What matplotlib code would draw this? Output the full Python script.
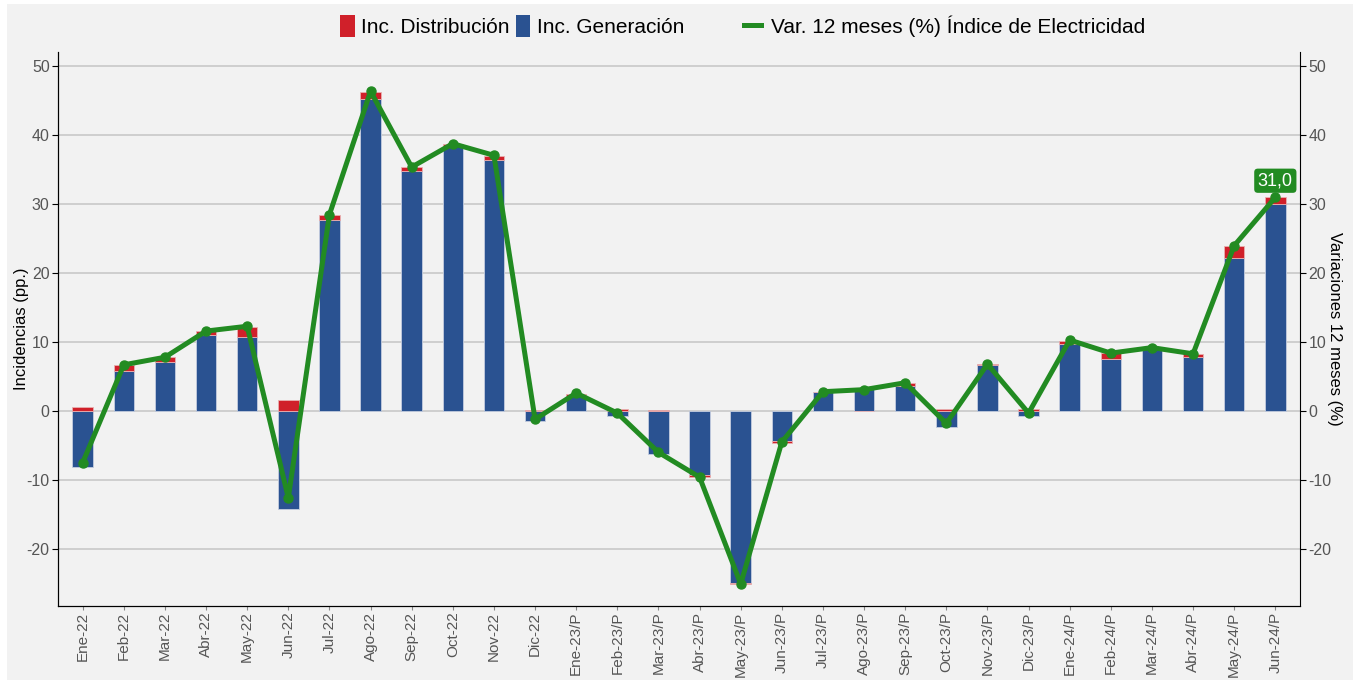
import matplotlib.pyplot as plt
import numpy as np
from matplotlib.patches import Patch, Rectangle
from matplotlib.lines import Line2D

plt.rcParams['font.family'] = ['Liberation Sans', 'DejaVu Sans']
plt.rcParams['axes.unicode_minus'] = False

months = ["Ene-22", "Feb-22", "Mar-22", "Abr-22", "May-22", "Jun-22", "Jul-22", "Ago-22",
          "Sep-22", "Oct-22", "Nov-22", "Dic-22", "Ene-23/P", "Feb-23/P", "Mar-23/P",
          "Abr-23/P", "May-23/P", "Jun-23/P", "Jul-23/P", "Ago-23/P", "Sep-23/P", "Oct-23/P",
          "Nov-23/P", "Dic-23/P", "Ene-24/P", "Feb-24/P", "Mar-24/P", "Abr-24/P", "May-24/P",
          "Jun-24/P"]

# incidencias (pp.)
generacion = [-8.1, 5.8, 7.1, 11.0, 10.7, -14.2, 27.7, 45.3, 34.9, 38.4, 36.4, -1.4,
              2.2, -0.7, -6.2, -9.3, -24.9, -4.4, 2.7, 3.2, 3.6, -2.3, 6.7, -0.7,
              9.7, 7.6, 9.2, 7.9, 22.2, 30.0]
distribucion = [0.6, 0.9, 0.7, 0.6, 1.5, 1.6, 0.7, 1.0, 0.5, 0.3, 0.6, 0.1,
                0.2, 0.3, 0.2, -0.3, -0.2, -0.2, 0.1, 0.0, 0.4, 0.3, 0.1, 0.3,
                0.5, 0.8, 0.1, 0.4, 1.8, 1.0]
# var. 12 meses (%)
var_12m = [-7.5, 6.7, 7.8, 11.6, 12.3, -12.6, 28.5, 46.4, 35.4, 38.8, 37.1, -1.2,
           2.6, -0.3, -6.0, -9.6, -25.1, -4.5, 2.8, 3.1, 4.1, -1.8, 6.8, -0.3,
           10.3, 8.4, 9.2, 8.3, 24.0, 31.0]

blue = "#2a5291"
red = "#d0202a"
green = "#228b22"
bg = "#f2f2f2"
txt = "#555555"

fig = plt.figure(figsize=(13.53, 6.8), dpi=100)
fig.patch.set_facecolor("white")
fig.patches.append(Rectangle((7 / 1353, 0), 1 - 7 / 1353, 1 - 4 / 680,
                             transform=fig.transFigure, facecolor=bg, edgecolor="none", zorder=-10))

ax = fig.add_axes([58 / 1353, 1 - 606 / 680, (1300 - 58) / 1353, (606 - 52) / 680])
ax.set_facecolor(bg)
ax2 = ax.twinx()

x = np.arange(len(months))
gen = np.array(generacion)
dist = np.array(distribucion)
# stacked bars: generation next to zero, distribution stacked on its sign side
bottom_dist = np.where(np.sign(dist) == np.sign(gen), gen, 0)
ax.bar(x, gen, width=0.5, color=blue, edgecolor="#c4cde0", linewidth=0.6, zorder=2)
ax.bar(x, dist, width=0.5, bottom=bottom_dist, color=red, edgecolor="#e8b0b0", linewidth=0.6, zorder=2)

ax.plot(x, var_12m, color=green, linewidth=3.6, marker="o", markersize=6.5, zorder=3,
        solid_joinstyle="round")
ax.annotate("31,0", (x[-1], var_12m[-1]), xytext=(0, 12), textcoords="offset points",
            ha="center", va="center", color="white", fontsize=13,
            bbox=dict(boxstyle="round,pad=0.2", facecolor=green, edgecolor="none"), zorder=4)

ylim = (-28.3, 52.1)
ax.set_ylim(ylim)
ax2.set_ylim(ylim)
ax.set_xlim(-0.6, len(months) - 0.4)
ticks = [-20, -10, 0, 10, 20, 30, 40, 50]
ax.set_yticks(ticks)
ax2.set_yticks(ticks)
ax.yaxis.grid(True, color="#c8c8c8", linewidth=1.2, zorder=0)
ax.set_axisbelow(True)

ax.set_xticks(x)
ax.set_xticklabels(months, rotation=90)
ax.tick_params(axis="x", colors="#888888", labelcolor=txt, labelsize=11, length=3, pad=1)
ax.tick_params(axis="y", labelcolor=txt, labelsize=11.5, length=4, pad=2)
ax2.tick_params(axis="y", labelcolor=txt, labelsize=11.5, length=4, pad=2)

for a in (ax, ax2):
    a.spines["top"].set_visible(False)
ax.spines["right"].set_visible(False)

ax.set_ylabel("Incidencias (pp.)", fontsize=12, va="center")
ax.yaxis.set_label_coords(-36 / 1242, 0.5)
ax2.set_ylabel("Variaciones 12 meses (%)", fontsize=12, rotation=270, va="center")
ax2.yaxis.set_label_coords(1 + 35 / 1242, 0.5)

fig.legend(handles=[Patch(facecolor=red, label="Inc. Distribución"),
                    Patch(facecolor=blue, label="Inc. Generación")],
           loc="center", bbox_to_anchor=(512 / 1353, 1 - 26 / 680), ncol=2, frameon=False,
           fontsize=15, handlelength=0.7, handleheight=1.2, handletextpad=0.3, columnspacing=0.3)
fig.legend(handles=[Line2D([0], [0], color=green, linewidth=3.6, label="Var. 12 meses (%) Índice de Electricidad")],
           loc="center", bbox_to_anchor=(945 / 1353, 1 - 26 / 680), frameon=False,
           fontsize=15, handlelength=0.8, handletextpad=0.5)

plt.savefig("out.png", dpi=100, facecolor=fig.get_facecolor())
